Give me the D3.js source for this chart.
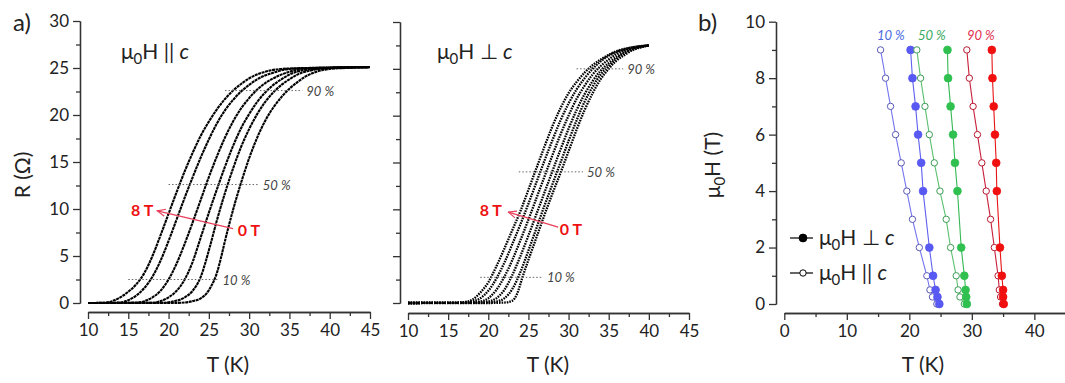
<!DOCTYPE html>
<html>
<head>
<meta charset="utf-8">
<script src="https://cdn.jsdelivr.net/npm/d3@7"></script>
<style>
body{margin:0;background:#fff}
text{font-family:Lato,"Open Sans",sans-serif;fill:#222}
.axis path,.axis line{stroke:#333;stroke-width:1.3}
.axis text{font-size:17px;fill:#222;font-family:Lato,sans-serif}
</style>
</head>
<body>
<script>
// panel a, H || c : [T (K), R (ohm)]
var par0T=[[10,0],[20,0],[22,0.05],[23,0.2],[24,0.5],[24.7,1.0],[25.3,1.8],[26,3.2],[26.5,4.8],[27,6.6],[27.5,8.3],[28,9.9],[28.5,11.4],[29,12.8],[30,15.4],[31,17.6],[32,19.4],[33,20.8],[34,21.9],[35,22.8],[36,23.5],[37,24.1],[38,24.5],[40,24.9],[42,25.0],[45,25.1]]
var par1T=[[10,0],[19,0.02],[20.5,0.15],[22,0.6],[23,1.3],[24,2.8],[25,5.6],[26,8.8],[27,11.7],[28,14.3],[29,16.6],[30,18.5],[31,20.1],[32,21.4],[33,22.4],[34,23.2],[35,23.8],[36,24.3],[38,24.8],[40,25.0],[45,25.1]]
var par2T=[[10,0],[18,0.02],[19,0.2],[20,0.6],[21,1.3],[22,2.5],[23,4.4],[24,7.0],[25,9.6],[26,12.1],[27,14.5],[28,16.7],[29,18.6],[30,20.1],[31,21.4],[32,22.4],[33,23.2],[34,23.8],[35,24.3],[37,24.8],[40,25.0],[45,25.1]]
var par4T=[[10,0],[16,0.02],[17,0.2],[18,0.6],[19,1.3],[20,2.5],[21,4.2],[22,6.3],[23,8.6],[24,11.0],[25,13.4],[26,15.6],[27,17.6],[28,19.3],[29,20.7],[30,21.8],[31,22.7],[32,23.4],[33,23.9],[35,24.6],[37,24.9],[40,25.0],[45,25.1]]
var par6T=[[10,0],[14,0.05],[15,0.3],[16,0.8],[17,1.6],[18,2.8],[19,4.5],[20,6.6],[21,8.9],[22,11.2],[23,13.4],[24,15.5],[25,17.4],[26,19.1],[27,20.5],[28,21.6],[29,22.5],[30,23.2],[31,23.8],[33,24.5],[35,24.9],[38,25.0],[45,25.1]]
var par8T=[[10,0],[12,0.02],[13,0.2],[14,0.6],[15,1.2],[16,2.0],[17,3.2],[18,5.0],[19,7.2],[20,9.5],[21,11.8],[22,14.0],[23,16.0],[24,17.8],[25,19.3],[26,20.6],[27,21.7],[28,22.6],[29,23.3],[30,23.9],[32,24.6],[34,24.9],[37,25.0],[45,25.1]]

// panel a, H perp c
var perp0T=[[10,0],[20,0],[22,0.05],[23,0.25],[23.6,1.0],[24.2,2.6],[25,4.6],[26,7.0],[27,9.4],[28,11.7],[29,13.9],[30,16.2],[31,18.5],[32,20.6],[33,22.4],[34,23.9],[35,25.0],[36,25.9],[37,26.5],[38,27.0],[39,27.3],[40,27.5]]
var perp1T=[[10,0],[20,0.03],[21,0.15],[22,0.5],[23,1.5],[24,3.3],[25,5.6],[26,8.0],[27,10.4],[28,12.7],[29,15.0],[30,17.3],[31,19.5],[32,21.5],[33,23.1],[34,24.4],[35,25.3],[36,26.1],[37,26.7],[38,27.1],[40,27.5]]
var perp2T=[[10,0],[19,0.03],[20,0.15],[21,0.5],[22,1.4],[23,3.0],[24,5.0],[25,7.2],[26,9.5],[27,11.8],[28,14.1],[29,16.4],[30,18.6],[31,20.6],[32,22.3],[33,23.7],[34,24.8],[35,25.6],[36,26.3],[37,26.8],[38,27.1],[40,27.5]]
var perp4T=[[10,0],[18,0.03],[19,0.15],[20,0.5],[21,1.4],[22,2.8],[23,4.6],[24,6.7],[25,8.9],[26,11.2],[27,13.5],[28,15.8],[29,18.0],[30,20.0],[31,21.8],[32,23.2],[33,24.4],[34,25.3],[35,26.0],[36,26.6],[38,27.2],[40,27.5]]
var perp6T=[[10,0],[17,0.03],[18,0.15],[19,0.5],[20,1.3],[21,2.6],[22,4.3],[23,6.3],[24,8.4],[25,10.6],[26,12.9],[27,15.2],[28,17.4],[29,19.5],[30,21.3],[31,22.8],[32,24.0],[33,25.0],[34,25.8],[35,26.4],[36,26.8],[38,27.3],[40,27.5]]
var perp8T=[[10,0],[16,0.02],[17,0.1],[18,0.35],[19,1.1],[20,2.2],[21,3.9],[22,5.8],[23,7.8],[24,9.8],[25,12.1],[26,14.4],[27,16.7],[28,18.9],[29,20.8],[30,22.4],[31,23.6],[32,24.6],[33,25.4],[34,26.0],[35,26.5],[36,26.9],[38,27.3],[40,27.5]]

// 10/50/90 % levels (R) and the T span of each dotted guide
var pctLabels=["10 %","50 %","90 %"]
var levelsPar=[2.5,12.6,22.6]
var spanPar=[[15.0,26.2],[20.0,31.2],[27.0,36.6]]
var levelsPerp=[2.74,14.0,25.0]
var spanPerp=[[19.0,26.8],[23.8,31.8],[31.0,36.8]]

// panel b : field (T) vs temperature (K)
var fieldsPar=[0,0.25,0.5,1,2,3,4,5,6,7,8,9]
var t10Par=[24.4,23.7,23.3,22.8,21.6,20.5,19.6,18.7,17.8,17.0,16.2,15.4]
var t50Par=[28.8,28.1,27.8,27.5,26.6,25.9,24.9,24.0,23.2,22.5,21.8,21.2]
var t90Par=[34.9,34.6,34.4,34.2,33.6,33.0,32.3,31.6,30.9,30.2,29.6,29.2]
var fieldsPerp=[0,0.25,0.5,1,2,4,5,6,7,8,9]
var t10Perp=[24.8,24.5,24.2,23.8,23.2,22.2,21.9,21.4,21.0,20.5,20.2]
var t50Perp=[29.2,29.1,29.0,28.8,28.3,27.7,27.3,27.0,26.6,26.2,26.1]
var t90Perp=[35.1,35.0,35.0,34.8,34.5,34.0,33.9,33.7,33.5,33.3,33.2]

var svg=d3.select("body").append("svg")
.attr("width",1065)
.attr("height",383)

svg.append("defs").append("marker")
.attr("id","arr")
.attr("viewBox","0 -5 10 10")
.attr("refX",9).attr("refY",0)
.attr("markerWidth",9).attr("markerHeight",9)
.attr("markerUnits","userSpaceOnUse")
.attr("orient","auto")
.append("path")
.attr("d","M0,-4L9,0L0,4")
.attr("fill","none")
.attr("stroke","#e8405a")
.attr("stroke-width",1.3)

var xA=d3.scaleLinear().domain([10,45]).range([88,370])
var yA=d3.scaleLinear().domain([0,30]).range([303,21])
var xB=d3.scaleLinear().domain([10,45]).range([408,689])
var yB=d3.scaleLinear().domain([0,30]).range([303,22])
var xC=d3.scaleLinear().domain([0,45]).range([784.3,1065.6])
var yC=d3.scaleLinear().domain([0,10]).range([304,21.7])

function drawAxes(x,y,xAt,yAt,xMaj,xMin,yMaj,yMin,yLab){
	svg.append("g").classed("axis",true)
	.attr("transform","translate(0,"+xAt+")")
	.call(d3.axisBottom(x).tickValues(xMin).tickSize(4).tickFormat("").tickSizeOuter(0))
	svg.append("g").classed("axis",true)
	.attr("transform","translate(0,"+xAt+")")
	.call(d3.axisBottom(x).tickValues(xMaj).tickSize(7).tickPadding(5).tickFormat(d3.format("d")).tickSizeOuter(0))

	svg.append("g").classed("axis",true)
	.attr("transform","translate("+yAt+",0)")
	.call(d3.axisLeft(y).tickValues(yMin).tickSize(4).tickFormat("").tickSizeOuter(0))
	svg.append("g").classed("axis",true)
	.attr("transform","translate("+yAt+",0)")
	.call(d3.axisLeft(y).tickValues(yMaj).tickSize(7).tickPadding(4)
		.tickFormat(yLab?d3.format("d"):"").tickSizeOuter(0))
}

drawAxes(xA,yA,312,80,d3.range(10,46,5),d3.range(12.5,45,5),d3.range(0,31,5),d3.range(2.5,30,5),true)
drawAxes(xB,yB,313,400,d3.range(10,46,5),d3.range(12.5,45,5),d3.range(0,31,5),d3.range(2.5,30,5),false)
drawAxes(xC,yC,313,776,d3.range(0,41,10),d3.range(5,46,10),d3.range(0,11,2),d3.range(1,10,2),true)

// R(T) curves
function drawCurves(curves,x,y,dash){
	var line=d3.line()
	.x(d=>x(d[0]))
	.y(d=>y(d[1]))
	.curve(d3.curveMonotoneX)
	svg.append("g")
	.selectAll("path")
	.data(curves)
	.enter()
	.append("path")
	.attr("d",line)
	.attr("fill","none")
	.attr("stroke","#000")
	.attr("stroke-width",dash?2.3:2.1)
	.attr("stroke-dasharray",dash?"1.6,1":"3,0.6")
}
drawCurves([par0T,par1T,par2T,par4T,par6T,par8T],xA,yA,false)
drawCurves([perp0T,perp1T,perp2T,perp4T,perp6T,perp8T],xB,yB,true)

// dotted % guides
function drawGuides(levels,spans,x,y){
	var g=svg.append("g")
	levels.forEach((lv,i)=>{
		g.append("line")
		.attr("x1",x(spans[i][0])).attr("x2",x(spans[i][1]))
		.attr("y1",y(lv)).attr("y2",y(lv))
		.attr("stroke","#666")
		.attr("stroke-width",1)
		.attr("stroke-dasharray","1.5,2")
		g.append("text")
		.attr("x",x(spans[i][1])+4)
		.attr("y",y(lv)+5)
		.style("font-size","13px")
		.style("font-style","italic")
		.style("fill","#444")
		.text(pctLabels[i])
	})
}
drawGuides(levelsPar,spanPar,xA,yA)
drawGuides(levelsPerp,spanPerp,xB,yB)

// 0 T -> 8 T arrows
function drawArrow(x,y,from,to,lab8,lab0){
	svg.append("line")
	.attr("x1",x(from[0])).attr("y1",y(from[1]))
	.attr("x2",x(to[0])).attr("y2",y(to[1]))
	.attr("stroke","#e8405a")
	.attr("stroke-width",1.3)
	.attr("marker-end","url(#arr)")
	svg.append("text")
	.attr("x",x(lab8[0])).attr("y",y(lab8[1]))
	.attr("text-anchor","end")
	.style("font-size","16px").style("font-weight","bold").style("fill","#ee1111")
	.text("8 T")
	svg.append("text")
	.attr("x",x(lab0[0])).attr("y",y(lab0[1]))
	.style("font-size","16px").style("font-weight","bold").style("fill","#ee1111")
	.text("0 T")
}
drawArrow(xA,yA,[28.0,7.9],[18.6,9.8],[18.1,9.25],[28.6,7.1])
drawArrow(xB,yB,[28.7,8.1],[22.5,9.7],[21.7,9.3],[28.9,7.3])

// panel b series
var bSeries=[
	{f:fieldsPar,t:t10Par,open:true,line:"#7575ee",mk:"#5a5ab8"},
	{f:fieldsPerp,t:t10Perp,open:false,line:"#6060f0",mk:"#5858f2"},
	{f:fieldsPar,t:t50Par,open:true,line:"#5cc070",mk:"#3c9c55"},
	{f:fieldsPerp,t:t50Perp,open:false,line:"#35b855",mk:"#30c050"},
	{f:fieldsPar,t:t90Par,open:true,line:"#c8203a",mk:"#b81830"},
	{f:fieldsPerp,t:t90Perp,open:false,line:"#e81515",mk:"#f01010"}
]
var bLine=d3.line().x(d=>xC(d[0])).y(d=>yC(d[1]))
bSeries.forEach(s=>{
	var pts=s.f.map((h,i)=>[s.t[i],h])
	svg.append("path")
	.attr("d",bLine(pts))
	.attr("fill","none")
	.attr("stroke",s.line)
	.attr("stroke-width",1.1)
	svg.append("g")
	.selectAll("circle")
	.data(pts)
	.enter()
	.append("circle")
	.attr("cx",d=>xC(d[0]))
	.attr("cy",d=>yC(d[1]))
	.attr("r",s.open?3.2:3.9)
	.attr("fill",s.open?"#fff":s.mk)
	.attr("stroke",s.mk)
	.attr("stroke-width",s.open?1:0.8)
})

var bLabels=[["10 %",877,"#4a6ae0"],["50 %",918,"#3aa860"],["90 %",967,"#e03050"]]
bLabels.forEach(l=>{
	svg.append("text")
	.attr("x",l[1]).attr("y",40)
	.style("font-size","13px").style("font-style","italic").style("fill",l[2])
	.text(l[0])
})

// legend
function legendRow(y,open,sym){
	svg.append("line").attr("x1",790).attr("x2",813).attr("y1",y).attr("y2",y)
	.attr("stroke","#000").attr("stroke-width",1.2)
	svg.append("circle").attr("cx",803).attr("cy",y).attr("r",open?3.2:3.9)
	.attr("fill",open?"#fff":"#000").attr("stroke","#000").attr("stroke-width",1)
	var t=svg.append("text").attr("x",819).attr("y",y+7).style("font-size","21px")
	t.append("tspan").text("μ")
	t.append("tspan").attr("dy",5).style("font-size","15px").text("0")
	t.append("tspan").attr("dy",-5).text("H "+sym+" ")
	t.append("tspan").style("font-style","italic").text("c")
}
legendRow(238,false,"⊥")
legendRow(273,true,"||")

// titles and labels
function muH(x,y,sym){
	var t=svg.append("text").attr("x",x).attr("y",y).style("font-size","21px")
	t.append("tspan").text("μ")
	t.append("tspan").attr("dy",5).style("font-size","15px").text("0")
	t.append("tspan").attr("dy",-5).text("H "+sym+" ")
	t.append("tspan").style("font-style","italic").text("c")
}
muH(121,59,"||")
muH(437,59,"⊥")

svg.append("text").attr("x",13).attr("y",31).style("font-size","24px").text("a)")
svg.append("text").attr("x",698).attr("y",31).style("font-size","24px").text("b)")

;[228,548,923].forEach(cx=>{
	svg.append("text").attr("x",cx).attr("y",372).attr("text-anchor","middle")
	.style("font-size","21px").text("T (K)")
})

svg.append("text")
.attr("transform","translate(30,175) rotate(-90)")
.attr("text-anchor","middle")
.style("font-size","21px")
.text("R (Ω)")

var yl=svg.append("text")
.attr("transform","translate(720,165) rotate(-90)")
.attr("text-anchor","middle")
.style("font-size","21px")
yl.append("tspan").text("μ")
yl.append("tspan").attr("dy",5).style("font-size","15px").text("0")
yl.append("tspan").attr("dy",-5).text("H (T)")
</script>
</body>
</html>
